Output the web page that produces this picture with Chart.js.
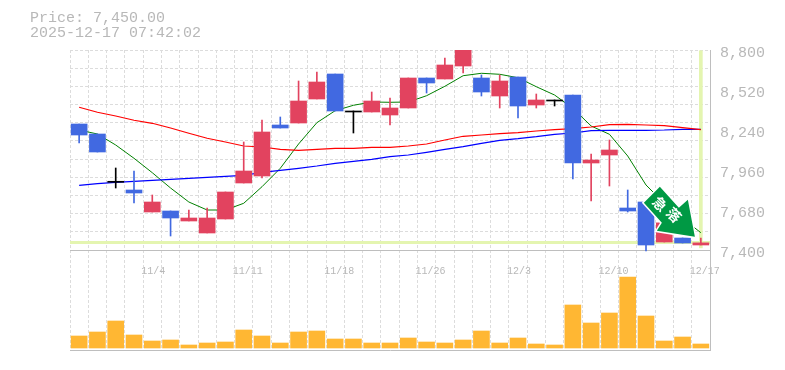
<!DOCTYPE html>
<html>
<head>
<meta charset="utf-8">
<style>
html, body { margin: 0; padding: 0; background: #fff; }
#wrap { width: 785px; height: 370px; }
</style>
<script src="https://cdn.jsdelivr.net/npm/chart.js@4"></script>
</head>
<body>
<div id="wrap"><canvas id="chart" width="785" height="370"></canvas></div>
<script>
var titleLines = ['Price: 7,450.00', '2025-12-17 07:42:02'];
var dates = ['10/28','10/29','10/30','10/31','11/4','11/5','11/6','11/7','11/10','11/11','11/12','11/13','11/14','11/17','11/18','11/19','11/20','11/21','11/25','11/26','11/27','11/28','12/1','12/2','12/3','12/4','12/5','12/8','12/9','12/10','12/11','12/12','12/15','12/16','12/17'];
var shownDates = ['11/4','11/11','11/18','11/26','12/3','12/10','12/17'];
var priceTicks = [7400, 7680, 7960, 8240, 8520, 8800];
var lastPrice = 7450;

var opens  = [8282,8212,7881,7820,7666,7673,7603,7519,7617,7869,7918,8275,8289,8457,8632,8373,8366,8345,8394,8604,8597,8688,8604,8478,8611,8415,8450,8485,8009,8065,7694,7736,7456,7484,7435];
var closes = [8205,8086,7874,7799,7736,7624,7624,7624,7806,7953,8226,8254,8443,8576,8373,8366,8443,8394,8604,8569,8695,8830,8506,8583,8408,8450,8443,8009,8030,8100,7673,7435,7590,7449,7450];
var highs  = [8282,8212,7974,7953,7785,7673,7680,7694,7806,8156,8310,8331,8583,8646,8632,8373,8506,8464,8604,8604,8744,8830,8625,8625,8611,8492,8450,8485,8072,8170,7820,7736,7590,7484,7484];
var lows   = [8149,8086,7834,7729,7666,7498,7603,7519,7617,7869,7904,8254,8289,8457,8373,8219,8366,8275,8394,8499,8597,8639,8478,8394,8324,8394,8408,7897,7743,7848,7666,7393,7456,7449,7435];

var maShort = [8240,8212,8135,8042,7941,7834,7736,7680,7680,7727,7843,7972,8142,8291,8375,8413,8436,8434,8436,8480,8546,8620,8637,8630,8606,8543,8485,8392,8268,8210,8058,7855,7727,7622,7521];
var maMid   = [8399,8364,8338,8308,8287,8254,8217,8182,8156,8128,8121,8105,8098,8105,8112,8112,8119,8119,8128,8142,8170,8196,8205,8214,8221,8233,8242,8249,8261,8277,8280,8275,8270,8256,8242];
var maLong  = [7853,7864,7874,7881,7888,7895,7902,7909,7916,7923,7944,7958,7972,7988,8007,8021,8035,8053,8065,8084,8105,8123,8147,8168,8179,8193,8210,8219,8235,8238,8238,8238,8240,8245,8245];
var volumes = [12,16,27,13,7,8,3,5,6,18,12,5,16,17,9,9,5,5,10,6,5,8,17,5,10,4,3,43,25,35,71,32,7,11,4];

var badgeText = ['急', '落'];

var textFont = { family: '"Liberation Mono", monospace', size: 15 };
var labelColor = '#b8b8b8';
var gridColor = '#dcdcdc';
var frameColor = '#bebebe';
var markerColor = '#e4f5b0';

function candleColor(i) {
    if (Math.abs(closes[i] - opens[i]) <= 10) return '#000000';
    return closes[i] > opens[i] ? '#e2435f' : '#4169e1';
}
var colors = dates.map(function(d, i) { return candleColor(i); });
var bodies = dates.map(function(d, i) { return [opens[i], closes[i]]; });
var wicks = dates.map(function(d, i) { return [lows[i], highs[i]]; });
var marker = dates.map(function(d, i) { return i === dates.length - 1 ? [7415, 8795] : null; });

function maLine(values, color, width) {
    return { type: 'line', data: values, borderColor: color, borderWidth: width, pointRadius: 0, tension: 0, yAxisID: 'price', order: 3 };
}

// the falling arrow stamped over the last candles, offsets from the last close
var arrowShape = [[-41,-56],[-57,-40],[-39,-20],[-44,-12],[-6,-6],[-13,-43],[-22,-35]];
var badgePlugin = {
    id: 'badge',
    afterDraw: function(chart) {
        var ctx = chart.ctx;
        var px = chart.scales.x.getPixelForValue(dates.length - 1);
        var py = chart.scales.price.getPixelForValue(lastPrice);
        ctx.save();
        ctx.beginPath();
        arrowShape.forEach(function(p, i) {
            if (i === 0) ctx.moveTo(px + p[0], py + p[1]);
            else ctx.lineTo(px + p[0], py + p[1]);
        });
        ctx.closePath();
        ctx.lineJoin = 'miter';
        ctx.lineWidth = 3;
        ctx.strokeStyle = '#ffffff';
        ctx.stroke();
        ctx.fillStyle = '#009944';
        ctx.fill();
        ctx.fillStyle = '#ffffff';
        ctx.font = 'bold 14px "Noto Sans CJK JP"';
        ctx.textAlign = 'center';
        ctx.textBaseline = 'middle';
        [[-41,-39],[-27,-28]].forEach(function(p, i) {
            ctx.save();
            ctx.translate(px + p[0], py + p[1]);
            ctx.rotate(Math.PI / 4);
            ctx.fillText(badgeText[i], 0, 0);
            ctx.restore();
        });
        ctx.restore();
    }
};

new Chart(document.getElementById('chart').getContext('2d'), {
    type: 'bar',
    plugins: [badgePlugin],
    data: {
        labels: dates,
        datasets: [
            { data: marker, backgroundColor: markerColor, barThickness: 3, grouped: false, yAxisID: 'price', order: 6 },
            { data: volumes, backgroundColor: '#ffb733', barThickness: 16, grouped: false, yAxisID: 'volume', order: 5 },
            maLine(maMid, '#ff0000', 1.2),
            maLine(maLong, '#0000ff', 1.2),
            maLine(maShort, '#008000', 1),
            { data: wicks, backgroundColor: colors, barThickness: 1, grouped: false, yAxisID: 'price', order: 2 },
            { data: bodies, backgroundColor: colors, barThickness: 16, grouped: false, yAxisID: 'price', order: 1 }
        ]
    },
    options: {
        responsive: false,
        animation: false,
        events: [],
        layout: { padding: { top: 11, left: 30, right: 0, bottom: 20 } },
        plugins: {
            legend: { display: false },
            tooltip: { enabled: false },
            title: {
                display: true,
                text: titleLines,
                align: 'start',
                color: labelColor,
                font: { family: textFont.family, size: 15, weight: 'normal', lineHeight: 1 },
                padding: { top: 0, bottom: 9 }
            }
        },
        scales: {
            x: {
                grid: { color: gridColor, drawTicks: false },
                border: { color: frameColor, dash: [3, 2] },
                ticks: { display: false }
            },
            xLabels: {
                axis: 'x',
                type: 'category',
                labels: dates,
                position: { price: 7400 },
                grid: { display: false },
                border: { display: false },
                ticks: {
                    autoSkip: false,
                    maxRotation: 0,
                    align: 'start',
                    labelOffset: -11,
                    color: labelColor,
                    font: { family: textFont.family, size: 10 },
                    padding: 7,
                    callback: function(value, i) {
                        return shownDates.indexOf(dates[i]) >= 0 ? dates[i] : '';
                    }
                }
            },
            gridY: {
                axis: 'y',
                position: 'left',
                min: -5.5,
                max: 11,
                afterBuildTicks: function(scale) {
                    scale.ticks = [0,1,2,3,4,5,6,7,8,9,10,11].map(function(v) { return { value: v }; });
                },
                afterFit: function(scale) { scale.width = 40; },
                grid: { color: gridColor, drawTicks: false, z: -2 },
                border: { display: false, dash: [3, 2] },
                ticks: { display: false }
            },
            price: {
                axis: 'y',
                position: 'right',
                min: 6700,
                max: 8800,
                afterBuildTicks: function(scale) {
                    scale.ticks = priceTicks.concat([lastPrice]).map(function(v) { return { value: v }; });
                },
                afterFit: function(scale) { scale.width = 75; },
                grid: {
                    drawTicks: false,
                    color: function(c) {
                        if (c.tick.value === lastPrice) return markerColor;
                        return c.tick.value === 7400 ? frameColor : 'rgba(0,0,0,0)';
                    },
                    lineWidth: function(c) { return c.tick.value === lastPrice ? 3 : 1; }
                },
                border: { color: frameColor },
                ticks: {
                    color: labelColor,
                    font: { family: textFont.family, size: 15 },
                    padding: 10,
                    labelOffset: 3,
                    autoSkip: false,
                    callback: function(value) {
                        return value === lastPrice ? '' : value.toLocaleString('en-US');
                    }
                }
            },
            volume: {
                axis: 'y',
                display: false,
                min: -2,
                max: 298
            }
        }
    }
});
</script>
</body>
</html>
